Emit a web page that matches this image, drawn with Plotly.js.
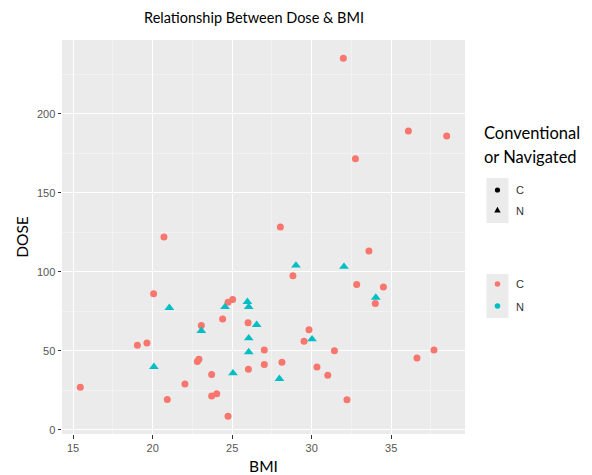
<!DOCTYPE html>
<html>
<head>
<meta charset="utf-8">
<script src="https://cdn.plot.ly/plotly-3.0.1.min.js"></script>
<style>html,body{margin:0;padding:0;background:#fff;}#chart{width:592px;height:475px;}</style>
</head>
<body>
<div id="chart"></div>
<script>
// Conventional (C) cases
const C_bmi  = [20.71,20.06,23.06,24.74,25.03,24.40,26.00,19.04,19.64,22.81,22.91,23.71,26.02,22.03,15.45,20.92,23.71,24.03,24.74,
                33.60,28.82,32.83,34.51,34.00,29.83,29.52,27.02,31.43,27.02,28.13,30.33,31.01,32.22,36.62,37.69,
                31.99,36.08,38.49,32.75,28.03];
const C_dose = [122.0,86.1,66.0,80.8,82.5,70.1,67.7,53.6,54.9,43.2,44.7,35.0,38.4,29.1,27.0,19.2,21.5,22.8,8.7,
                113.1,97.5,92.0,90.3,79.9,63.3,56.1,50.6,50.0,41.3,42.8,39.7,34.6,19.0,45.4,50.6,
                235.0,189.0,185.9,171.5,128.3];
// Navigated (N) cases
const N_bmi  = [21.05,23.06,24.55,25.96,26.04,26.54,26.04,26.04,20.08,25.05,29.01,32.03,34.03,30.02,27.97];
const N_dose = [77.2,62.7,77.8,81.0,77.8,66.5,58.0,49.2,39.9,35.9,104.0,103.2,83.7,57.4,32.3];

const groups = ["C","N"];
const xTicks = [15,20,25,30,35];
const yTicks = [0,50,100,150,200];

const W = 592, H = 475;
const M = {l:62, r:126.5, t:40, b:41};
const PW = W - M.l - M.r, PH = H - M.t - M.b;
const px = x => (x - M.l) / PW;
const py = y => (H - M.b - y) / PH;

const traces = [
  {type:'scatter', mode:'markers', name:'C', x:C_bmi, y:C_dose, showlegend:false,
   marker:{symbol:'circle', size:7, color:'#F8766D'}, hoverinfo:'x+y'},
  {type:'scatter', mode:'markers', name:'N', x:N_bmi, y:N_dose, showlegend:false,
   marker:{symbol:'triangle-up', size:8.5, color:'#00BFC4'}, hoverinfo:'x+y'}
];

// legend keys (drawn as shapes in paper coordinates)
const shapes = [];
const annotations = [];
function keyBox(y0, y1){
  shapes.push({type:'rect', xref:'paper', yref:'paper', x0:px(487), x1:px(509), y0:py(y1), y1:py(y0),
    fillcolor:'#EBEBEB', line:{width:0}, layer:'below'});
}
function keyCircle(cx, cy, r, color){
  shapes.push({type:'circle', xref:'paper', yref:'paper', x0:px(cx-r), x1:px(cx+r), y0:py(cy+r), y1:py(cy-r),
    fillcolor:color, line:{width:0}});
}
function keyTri(cx, cy, s, color){
  const path = `M ${px(cx)} ${py(cy-s)} L ${px(cx+s)} ${py(cy+s*0.75)} L ${px(cx-s)} ${py(cy+s*0.75)} Z`;
  shapes.push({type:'path', xref:'paper', yref:'paper', path:path, fillcolor:color, line:{width:0}});
}
function keyLabel(text, y){
  annotations.push({text:text, xref:'paper', yref:'paper', x:px(515), y:py(y), xanchor:'left', yanchor:'middle',
    showarrow:false, font:{family:'Liberation Sans, Arial, sans-serif', size:11, color:'#333333'}});
}
annotations.push({text:'Conventional', xref:'paper', yref:'paper', x:px(483), y:py(133), xanchor:'left', yanchor:'middle',
  showarrow:false, font:{family:'Lato, sans-serif', size:16.5, color:'#000'}});
annotations.push({text:'or Navigated', xref:'paper', yref:'paper', x:px(483), y:py(157), xanchor:'left', yanchor:'middle',
  showarrow:false, font:{family:'Lato, sans-serif', size:16.5, color:'#000'}});

keyBox(178, 223);
keyCircle(498, 190, 2.6, '#000');
keyTri(498, 210, 3.2, '#000');
keyLabel(groups[0], 190);
keyLabel(groups[1], 211);

keyBox(274, 318);
keyCircle(498, 284, 2.8, '#F8766D');
keyCircle(498, 306, 2.8, '#00BFC4');
keyLabel(groups[0], 284);
keyLabel(groups[1], 307);

const axisCommon = {
  showline:false, zeroline:false,
  gridcolor:'#FFFFFF', gridwidth:1.2,
  ticks:'outside', ticklen:3.5, tickwidth:1, tickcolor:'#333333',
  tickfont:{family:'Liberation Sans, Arial, sans-serif', size:11, color:'#555555'},
  fixedrange:true
};

const layout = {
  width:W, height:H,
  margin:M,
  paper_bgcolor:'#FFFFFF',
  plot_bgcolor:'#EBEBEB',
  font:{family:'Lato, sans-serif', color:'#555555'},
  title:{text:'Relationship Between Dose & BMI', x:254/W, xanchor:'center', y:1-18/H, yanchor:'middle', xref:'container', yref:'container',
    font:{family:'Lato, sans-serif', size:14.5, color:'#000'}},
  xaxis:Object.assign({}, axisCommon, {
    range:[14.3, 39.64], tickmode:'array', tickvals:xTicks, ticktext:xTicks.map(String),
    minor:{tickmode:'array', tickvals:[12.5,17.5,22.5,27.5,32.5,37.5], showgrid:true, gridcolor:'#F6F6F6', gridwidth:0.6, ticks:''},
    title:{text:'BMI', standoff:8, font:{family:'Lato, sans-serif', size:15.5, color:'#000'}}
  }),
  yaxis:Object.assign({}, axisCommon, {
    range:[-2.6, 246.6], tickmode:'array', tickvals:yTicks, ticktext:yTicks.map(String),
    minor:{tickmode:'array', tickvals:[25,75,125,175,225], showgrid:true, gridcolor:'#F6F6F6', gridwidth:0.6, ticks:''},
    title:{text:'DOSE', standoff:4, font:{family:'Lato, sans-serif', size:15.5, color:'#000'}}
  }),
  shapes:shapes,
  annotations:annotations,
  showlegend:false
};

Plotly.newPlot('chart', traces, layout, {displayModeBar:false, staticPlot:true});
</script>
</body>
</html>
